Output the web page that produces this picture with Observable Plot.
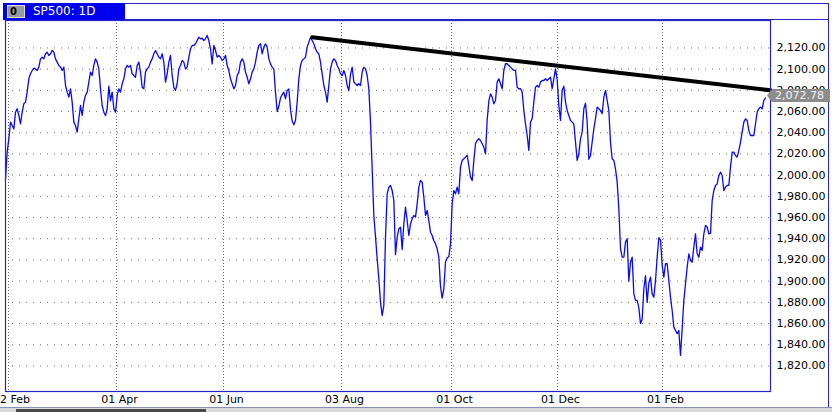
<!DOCTYPE html>
<html>
<head>
<meta charset="utf-8">
<script src="https://cdn.jsdelivr.net/npm/d3@7"></script>
<script src="https://cdn.jsdelivr.net/npm/@observablehq/plot@0.6"></script>
<style>
  html, body { margin: 0; padding: 0; background: #fff; }
  #wrap { position: relative; width: 832px; height: 412px; overflow: hidden; font-family: "DejaVu Sans", sans-serif; background: #fff; }
  #wrap svg { position: absolute; left: 0; top: 0; }
  .chrome { position: absolute; box-sizing: border-box; }
</style>
</head>
<body>
<div id="wrap"></div>
<script>
// SP500 daily closes, one sample per ~0.6 trading day
const febToApr = [1996.5, 2021.7, 2034.3, 2050, 2046.8, 2043.7, 2059.4, 2062.6, 2056.3, 2048.4,
  2059.4, 2067.3, 2068.9, 2078.3, 2090.9, 2095.6, 2098.7, 2101, 2100.3, 2098.7,
  2101.9, 2109.7, 2111.3, 2109.7, 2114.5, 2116, 2112.9, 2114.5, 2117.6, 2116,
  2109.7, 2106.6, 2103.5, 2101.9, 2098.7, 2101.9, 2084.6, 2078.3, 2073.6, 2081.4,
  2068.9, 2050, 2046.8, 2040.6, 2053.1, 2065.7, 2056.3, 2068.9, 2075.2, 2078.3,
  2087.7, 2097.2, 2094, 2103.5, 2109.7, 2106.6, 2100.3, 2081.4, 2065.7, 2059.4,
  2056.3, 2062.6, 2084, 2070, 2078.3, 2062.6, 2059.4, 2075.2, 2081.4, 2078.3,
  2086.2, 2090.9, 2100.3, 2103.5, 2101.9, 2103.5, 2095.6, 2094];
const aprToJun = [2092.4, 2103.5, 2106.6, 2097.2, 2083, 2081.4, 2097.2, 2100.3, 2101.9, 2106.6,
  2109.7, 2114.5, 2117.6, 2114.5, 2111.3, 2109.7, 2114.5, 2106.6, 2087.7, 2095.6,
  2106.6, 2112.9, 2094, 2083, 2079.9, 2086.2, 2100.3, 2103.5, 2108.2, 2106.6,
  2100.3, 2101.9, 2111.3, 2119.2, 2122.3, 2122.3, 2123.9, 2127, 2130.2, 2128.6,
  2129.2, 2127, 2128.6, 2131.8, 2127, 2119.2, 2105, 2122.3, 2117.6, 2111.3,
  2112.9, 2111.3, 2108.2, 2109.7, 2112.9, 2103.5, 2098.7, 2090.9, 2086.2, 2081.4,
  2084.6, 2094, 2097.2, 2106.6, 2109.7, 2106.6, 2097.2, 2092.4, 2086.2, 2090.9,
  2097.2, 2100.3, 2106.6, 2116, 2122.3];
const junToAug = [2123.9, 2114.5, 2120.8, 2123.9, 2120.8, 2109.7, 2105, 2101.9, 2100.3, 2078.3,
  2060, 2065, 2073, 2076, 2078.3, 2072, 2079.9, 2081.4, 2062, 2051,
  2047.5, 2051.6, 2068.9, 2090.9, 2103.5, 2108.2, 2109.7, 2111.3, 2120.8, 2125.5,
  2130, 2127, 2123.9, 2119.2, 2116, 2114.5, 2106.6, 2095.6, 2084.6, 2078.3,
  2068.9, 2084.6, 2100.3, 2106.6, 2109.7, 2108.2, 2103.5, 2100.3, 2095.6, 2094,
  2098.7, 2094, 2084.6, 2079.9, 2095, 2101.9, 2088, 2086.2, 2084.6, 2086.2,
  2084.6, 2097.2, 2101.9, 2100.3, 2094, 2081.4, 2050, 2006, 1962, 1942,
  1921, 1902.2, 1880.2, 1867.6, 1877];
const augToNov = [1941.5, 1982.4, 1988.7, 1990.3, 1985.5, 1976.1, 1925, 1941.5, 1949.4, 1951,
  1930, 1954.1, 1969.8, 1957.2, 1943.1, 1954.1, 1958.8, 1962, 1960.4, 1973,
  1988.7, 1995, 1993.4, 1979.2, 1962, 1966.7, 1957.2, 1946.2, 1943.1, 1938.4,
  1935.2, 1930.5, 1922.6, 1895, 1884, 1892.8, 1918, 1922, 1923, 1935,
  1973, 1985.5, 1982.4, 1988.7, 1982.4, 2007.6, 2013.9, 2015.4, 2017, 2018.6,
  2009.1, 1998.1, 1995, 2013.9, 2029.6, 2032.7, 2034.3, 2032.7, 2029.6, 2026.4,
  2020.1, 2052, 2070, 2076.7, 2073.6, 2067.3, 2070.5, 2087.8, 2090.9, 2086.2,
  2081.5, 2098.8, 2105.1, 2105.1, 2103.5, 2101.9, 2100.3, 2098.8];
const novToJan = [2098.8, 2083, 2081.5, 2081.5, 2078.3, 2061, 2048.4, 2037.4, 2023.3, 2050,
  2053.2, 2068.9, 2083, 2084.6, 2083, 2087.8, 2089.3, 2089.3, 2090.9, 2089.3,
  2090.9, 2092.5, 2081.5, 2090.9, 2100.3, 2090, 2065.7, 2051.6, 2080, 2084,
  2068.9, 2061, 2056.3, 2051.6, 2050, 2048.4, 2031.2, 2013.9, 2020.1, 2034.3,
  2040.6, 2062.6, 2068, 2050, 2015, 2018.6, 2031.2, 2043.7, 2053.2, 2064.2,
  2062.6, 2061, 2057.9, 2073.6, 2079.9, 2070.5, 2061, 2031.2, 2015.4, 2013.9,
  2006, 1993.4, 1968.3, 1930.5, 1922.6, 1922.6, 1936.8, 1939.9, 1900, 1917.9,
  1922.6, 1888, 1881.8, 1881.8, 1875, 1860, 1864, 1892.8, 1905.3];
const janToMar = [1880, 1898, 1903.8, 1888, 1884.9, 1900.6, 1922.6, 1941, 1939, 1915,
  1903.8, 1916.4, 1916.4, 1900.6, 1884.9, 1872.3, 1856.6, 1853.5, 1850.3, 1853.5,
  1829.9, 1855, 1881.8, 1897.5, 1913.2, 1925.8, 1919.5, 1917.9, 1932.1, 1944.7,
  1925.8, 1922.6, 1932.1, 1929, 1944.7, 1952.5, 1951, 1944.7, 1945, 1976,
  1985.5, 1990.3, 1991.8, 1999.7, 2002.8, 1999.7, 1985.5, 1988.7, 1990.3, 1990.3,
  2007.6, 2021.7, 2021.7, 2018.6, 2017, 2023.3, 2031.2, 2040.6, 2050, 2053.2,
  2051.6, 2042.2, 2037.4, 2037.4, 2037.4, 2048.5, 2059.5, 2062.6, 2064.2, 2062.6,
  2070.5, 2072.78];

// date axis: sample index of each labelled date
const dateSteps = [1.8, 66.6, 130.8, 201.6, 267.6, 331.2, 394.2];
const dateLabels = ["02 Feb", "01 Apr", "01 Jun", "03 Aug", "01 Oct", "01 Dec", "01 Feb"];
const priceTicks = [1820, 1840, 1860, 1880, 1900, 1920, 1940, 1960, 1980, 2000, 2020, 2040, 2060, 2080, 2100, 2120];
// trend line from the July high to the right edge
const trendSteps = [184, 459];
const trendPrices = [2130, 2080];
const lastPrice = 2072.78;
const symbolTitle = "SP500: 1D";

const closes = [...febToApr, ...aprToJun, ...junToAug, ...augToNov, ...novToJan, ...janToMar];
const series = closes.map((price, step) => ({step, price}));
const trend = trendSteps.map((step, i) => ({step, price: trendPrices[i]}));
const labelOf = new Map(dateSteps.map((s, i) => [s, dateLabels[i]]));

const frameBlue = "#2626c8";

const chart = Plot.plot({
  width: 832,
  height: 412,
  marginLeft: 5,
  marginRight: 62,
  marginTop: 20,
  marginBottom: 21,
  x: {domain: [0, 459], axis: null, label: null},
  y: {domain: [1795.9, 2145.9], axis: null, label: null},
  style: {fontFamily: "DejaVu Sans", fontSize: "11px", background: "transparent", overflow: "visible", color: "#000"},
  marks: [
    Plot.ruleY(priceTicks, {stroke: "#6e6e6e", strokeDasharray: "1,6", strokeWidth: 1}),
    Plot.ruleX(dateSteps, {stroke: "#6e6e6e", strokeDasharray: "1,2", strokeWidth: 1}),
    Plot.line(series, {x: "step", y: "price", stroke: "#0a0af0", strokeWidth: 1.3}),
    Plot.line(trend, {x: "step", y: "price", stroke: "#000", strokeWidth: 4}),
    Plot.frame({stroke: frameBlue, strokeWidth: 1.2}),
    Plot.axisY(priceTicks, {anchor: "right", label: null, tickSize: 0, tickPadding: 6, tickFormat: d3.format(",.2f"), fill: "#000", fontSize: 11}),
    Plot.axisX(dateSteps, {anchor: "bottom", label: null, tickSize: 0, tickPadding: 4, dx: 3, tickFormat: d => labelOf.get(d), fill: "#000", fontSize: 11})
  ]
});

const wrap = document.getElementById("wrap");
wrap.appendChild(chart);

function box(css, html) {
  const d = document.createElement("div");
  d.className = "chrome";
  Object.assign(d.style, css);
  if (html) d.innerHTML = html;
  wrap.appendChild(d);
  return d;
}

// window chrome: title strip, outer borders, scrollbar
box({left: "3px", top: "3px", width: "826px", height: "17px", background: "#fff", border: "1px solid " + frameBlue});
box({left: "3px", top: "3px", width: "122px", height: "17px", background: "#0000ee"});
box({left: "7px", top: "5px", width: "18px", height: "13px", background: "#9a9a9a", border: "1px solid #dcdcdc",
     fontSize: "10px", fontWeight: "bold", color: "#000", lineHeight: "11px", paddingLeft: "2px"}, "0");
box({left: "33px", top: "4px", height: "15px", color: "#fff", fontSize: "12px", lineHeight: "15px", whiteSpace: "nowrap",
     fontFamily: "'DejaVu Sans', sans-serif"}).textContent = symbolTitle;
box({left: "828px", top: "3px", width: "1px", height: "405px", background: frameBlue});
box({left: "0px", top: "407px", width: "832px", height: "1px", background: "#8a8fb8"});
box({left: "0px", top: "408px", width: "832px", height: "4px", background: "#d8d8d8"});
box({left: "16px", top: "409px", width: "190px", height: "3px", background: "#4a4a4a"});

// current price tag on the right axis
const py = chart.scale("y").apply(lastPrice);
const tag = box({left: "767px", top: (py - 8.5) + "px", width: "63px", height: "13px", background: "#8c8c8c",
  clipPath: "polygon(0 50%, 5px 0, 100% 0, 100% 100%, 5px 100%)", color: "#f4f4f4", fontSize: "11px",
  lineHeight: "13px", paddingLeft: "8px", whiteSpace: "nowrap"});
tag.textContent = d3.format(",.2f")(lastPrice);
</script>
</body>
</html>
